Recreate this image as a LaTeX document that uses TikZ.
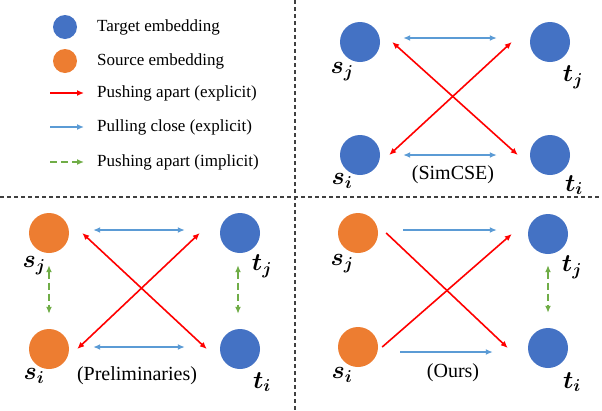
\documentclass[tikz,border=0pt]{standalone}
\usepackage{amsmath}
\usepackage{fontspec}
\setmainfont{Liberation Serif}
\usetikzlibrary{arrows.meta}

\definecolor{tgtblue}{HTML}{4472C4}
\definecolor{srcorange}{HTML}{ED7D31}
\definecolor{pushred}{HTML}{FF0000}
\definecolor{pullblue}{HTML}{5B9BD5}
\definecolor{implgreen}{HTML}{70AD47}

\tikzset{
	>={Latex[length = 7pt, width = 6pt]},
	target/.style = {circle, fill = tgtblue, minimum size = 40pt, inner sep = 0pt},
	source/.style = {circle, fill = srcorange, minimum size = 40pt, inner sep = 0pt},
	smalldot/.style = {circle, minimum size = 24pt, inner sep = 0pt},
	lbl/.style = {font = \fontsize{24}{26}\selectfont, inner sep = 0pt},
	legtext/.style = {anchor = west, inner sep = 0pt, font = \fontsize{17}{19}\selectfont},
	caption/.style = {inner sep = 0pt, font = \fontsize{20}{22}\selectfont},
	push/.style = {draw = pushred, line width = 1.6pt, ->},
	pull/.style = {draw = pullblue, line width = 1.6pt, ->},
	implicit/.style = {draw = implgreen, line width = 1.8pt, dash pattern = on 7pt off 4pt, ->},
	divider/.style = {draw = black!75, line width = 1.2pt, dash pattern = on 4pt off 3pt}
}

\begin{document}
\begin{tikzpicture}[x = 1pt, y = -1pt]
	\useasboundingbox (0,0) rectangle (602,410);

	% dividers
	\coordinate (vtop) at (295,0);
	\coordinate (vbot) at (295,410);
	\coordinate (hleft) at (0,197);
	\coordinate (hright) at (602,197);
	\draw[divider] (vtop) -- (vbot);
	\draw[divider] (hleft) -- (hright);

	% legend
	\node[smalldot, fill = tgtblue] (legtgt) at (65,27) {};
	\node[smalldot, fill = srcorange] (legsrc) at (65,61) {};
	\node[legtext] (ltgt) at (97,27) {Target embedding};
	\node[legtext] (lsrc) at (97,61) {Source embedding};
	\node[legtext] (lpush) at (97,93) {Pushing apart (explicit)};
	\node[legtext] (lpull) at (97,127) {Pulling close (explicit)};
	\node[legtext] (limpl) at (97,162) {Pushing apart (implicit)};
	\draw[push] ([xshift = -47pt]lpush.west) -- ([xshift = -13pt]lpush.west);
	\draw[pull] ([xshift = -47pt]lpull.west) -- ([xshift = -13pt]lpull.west);
	\draw[implicit] ([xshift = -47pt]limpl.west) -- ([xshift = -13pt]limpl.west);

	% SimCSE
	\node[target] (sjA) at (360,42) {};
	\node[target] (tjA) at (550,42) {};
	\node[target] (siA) at (360,155) {};
	\node[target] (tiA) at (550,155) {};
	\node[lbl] (sjlA) at ([shift = {(-18pt,-30pt)}]sjA) {$\boldsymbol{s_j}$};
	\node[lbl] (tjlA) at ([shift = {(23pt,-35pt)}]tjA) {$\boldsymbol{t_j}$};
	\node[lbl] (silA) at ([shift = {(-18pt,-26pt)}]siA) {$\boldsymbol{s_i}$};
	\node[lbl] (tilA) at ([shift = {(24pt,-30pt)}]tiA) {$\boldsymbol{t_i}$};
	\node[caption] (capA) at (453,175) {(SimCSE)};
	\draw[pull, <->] ([shift = {(23pt,4pt)}]sjA.east) -- ([shift = {(-33pt,4pt)}]tjA.west);
	\draw[pull, <->] ([xshift = 23pt]siA.east) -- ([xshift = -33pt]tiA.west);
	\draw[push, <->] ([xshift = 12pt]sjA.east) -- ([xshift = -12pt]tiA.west);
	\draw[push, <->] ([xshift = 9pt]siA.east) -- ([xshift = -18pt]tjA.west);

	% Preliminaries
	\node[source] (sjB) at (49,233) {};
	\node[target] (tjB) at (240,233) {};
	\node[source] (siB) at (49,349) {};
	\node[target] (tiB) at (240,349) {};
	\node[lbl] (sjlB) at ([shift = {(-15pt,-33pt)}]sjB) {$\boldsymbol{s_j}$};
	\node[lbl] (tjlB) at ([shift = {(22pt,-33pt)}]tjB) {$\boldsymbol{t_j}$};
	\node[lbl] (silB) at ([shift = {(-15pt,-27pt)}]siB) {$\boldsymbol{s_i}$};
	\node[lbl] (tilB) at ([shift = {(22pt,-33pt)}]tiB) {$\boldsymbol{t_i}$};
	\node[caption] (capB) at (137,376) {(Preliminaries)};
	\draw[pull, <->] ([shift = {(24pt,3pt)}]sjB.east) -- ([shift = {(-35pt,3pt)}]tjB.west);
	\draw[pull, <->] ([shift = {(24pt,2pt)}]siB.east) -- ([shift = {(-35pt,2pt)}]tiB.west);
	\draw[push, <->] ([xshift = 13pt]sjB.east) -- ([xshift = -13pt]tiB.west);
	\draw[push, <->] ([xshift = 8pt]siB.east) -- ([xshift = -20pt]tjB.west);
	\draw[implicit, <->] ([yshift = -12pt]sjB.south) -- ([yshift = 15pt]siB.north);
	\draw[implicit, <->] ([shift = {(-2pt,-12pt)}]tjB.south) -- ([shift = {(-2pt,15pt)}]tiB.north);

	% Ours
	\node[source] (sjC) at (358,233) {};
	\node[target] (tjC) at (548,234) {};
	\node[source] (siC) at (358,347) {};
	\node[target] (tiC) at (548,348) {};
	\node[lbl] (sjlC) at ([shift = {(-16pt,-31pt)}]sjC) {$\boldsymbol{s_j}$};
	\node[lbl] (tjlC) at ([shift = {(24pt,-33pt)}]tjC) {$\boldsymbol{t_j}$};
	\node[lbl] (silC) at ([shift = {(-16pt,-28pt)}]siC) {$\boldsymbol{s_i}$};
	\node[lbl] (tilC) at ([shift = {(24pt,-34pt)}]tiC) {$\boldsymbol{t_i}$};
	\node[caption] (capC) at (453,373) {(Ours)};
	\draw[pull] ([shift = {(25pt,3pt)}]sjC.east) -- ([shift = {(-31pt,4pt)}]tjC.west);
	\draw[pull] ([shift = {(22pt,-5pt)}]siC.east) -- ([shift = {(-35pt,-4pt)}]tiC.west);
	\draw[push] ([xshift = 8pt]sjC.east) -- ([xshift = -20pt]tiC.west);
	\draw[push] ([xshift = 4pt]siC.east) -- ([xshift = -16pt]tjC.west);
	\draw[implicit, <->] ([yshift = -11pt]tjC.south) -- ([yshift = 15pt]tiC.north);
\end{tikzpicture}
\end{document}
